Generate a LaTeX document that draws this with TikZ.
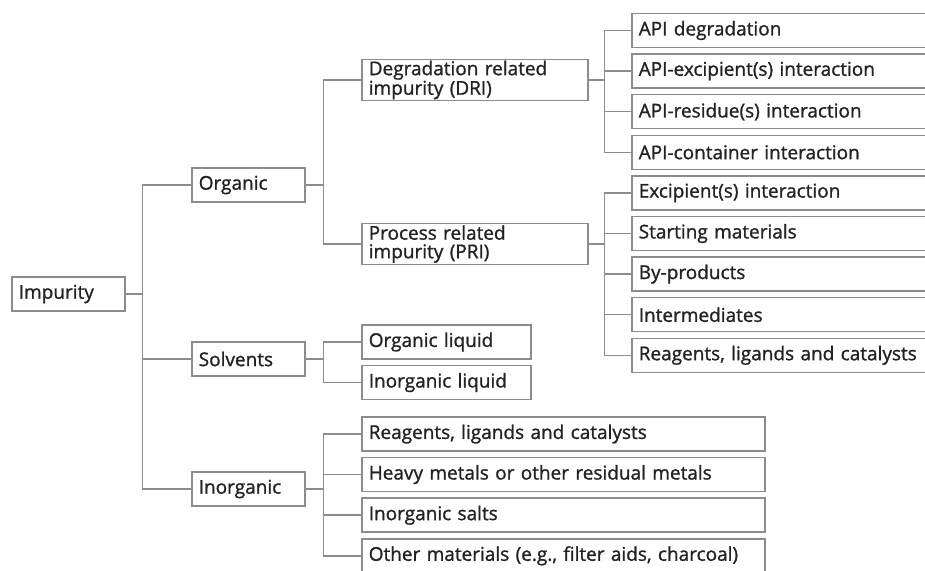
\documentclass[tikz,border=0pt]{standalone}
\usepackage{fontspec}
\setmainfont{Open Sans}[UprightFeatures={FakeBold=1.2}]
\usepackage{xcolor}
\usetikzlibrary{positioning}
\definecolor{linegray}{RGB}{140,140,140}
\definecolor{txtgray}{RGB}{35,35,35}

\begin{document}
\begin{tikzpicture}[x=1pt,y=-1pt,node distance=40.6pt,on grid,
  b/.style={draw=linegray,line width=1.5pt,anchor=west,align=left,inner xsep=7pt,inner ysep=0pt,minimum height=34pt,text=txtgray,font=\fontsize{19}{18.5}\selectfont},
  l/.style={draw=linegray,line width=1.5pt}]
\useasboundingbox (0,0) rectangle (925,570);
% root and first level
\node[b,text width=99pt] (imp) at (11,294) {Impurity};
\node[b,text width=99pt] (org) at (191,185) {Organic};
\node[b,text width=99pt] (sol) at (191,359) {Solvents};
\node[b,text width=99pt] (inorg) at (191,489) {Inorganic};
% second level
\node[b,text width=212pt,minimum height=41pt] (dri) at (361,80) {Degradation related\\impurity (DRI)};
\node[b,text width=212pt,minimum height=41pt] (pri) at (361,244) {Process related\\impurity (PRI)};
\node[b,text width=155pt] (ol) at (361,342) {Organic liquid};
\node[b,text width=155pt,below=of ol] (il) {Inorganic liquid};
% leaves of DRI and PRI
\node[b,text width=283pt] (d1) at (631,30.5) {API degradation};
\node[b,text width=283pt,below=of d1] (d2) {API-excipient(s) interaction};
\node[b,text width=283pt,below=of d2] (d3) {API-residue(s) interaction};
\node[b,text width=283pt,below=of d3] (d4) {API-container interaction};
\node[b,text width=283pt,below=of d4] (p1) {Excipient(s) interaction};
\node[b,text width=283pt,below=of p1] (p2) {Starting materials};
\node[b,text width=283pt,below=of p2] (p3) {By-products};
\node[b,text width=283pt,below=of p3] (p4) {Intermediates};
\node[b,text width=283pt,below=of p4] (p5) {Reagents, ligands and catalysts};
% leaves of inorganic
\node[b,text width=389pt] (i1) at (361,434) {Reagents, ligands and catalysts};
\node[b,text width=389pt,below=of i1] (i2) {Heavy metals or other residual metals};
\node[b,text width=389pt,below=of i2] (i3) {Inorganic salts};
\node[b,text width=389pt,below=of i3] (i4) {Other materials (e.g., filter aids, charcoal)};
% connectors
\foreach \c in {org,sol,inorg} \draw[l] (imp.east) -- +(17,0) |- (\c.west);
\foreach \c in {dri,pri} \draw[l] (org.east) -- +(18,0) |- (\c.west);
\foreach \c in {ol,il} \draw[l] (sol.east) -- +(18,0) |- (\c.west);
\foreach \c in {i1,i2,i3,i4} \draw[l] (inorg.east) -- +(18,0) |- (\c.west);
\foreach \c in {d1,d2,d3,d4} \draw[l] (dri.east) -- +(16,0) |- (\c.west);
\foreach \c in {p1,p2,p3,p4,p5} \draw[l] (pri.east) -- +(16,0) |- (\c.west);
\end{tikzpicture}
\end{document}
